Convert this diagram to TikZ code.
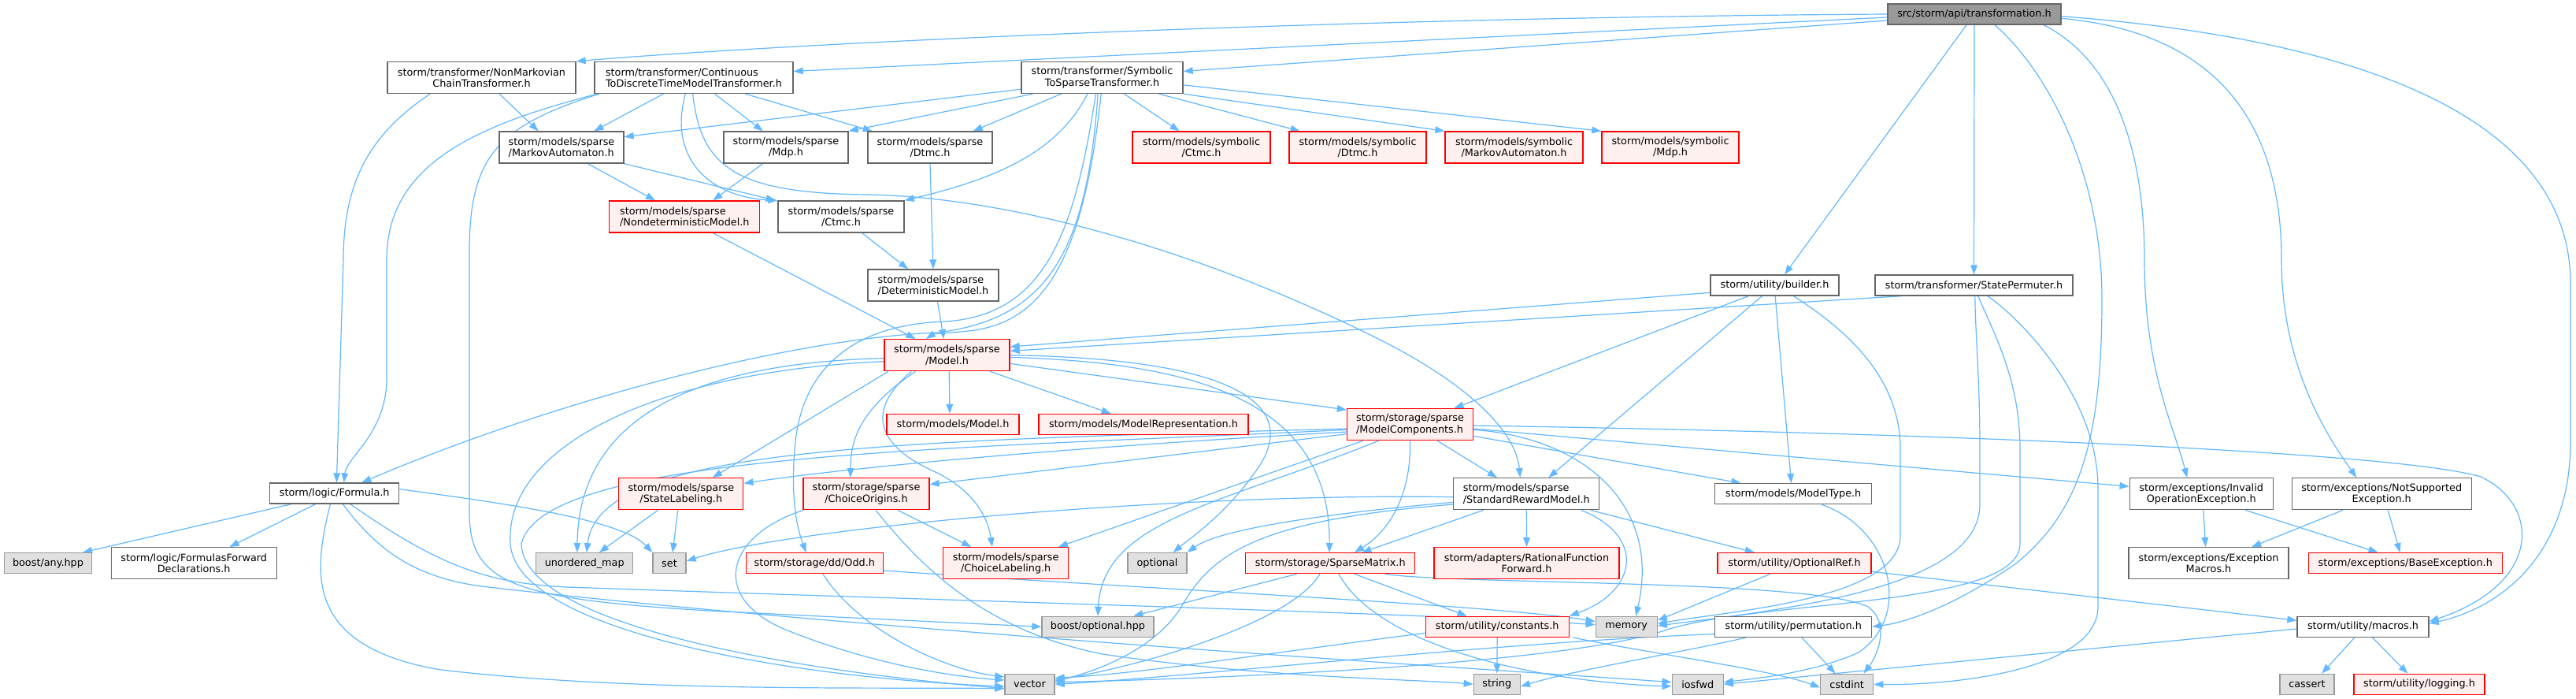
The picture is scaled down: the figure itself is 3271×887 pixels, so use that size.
\documentclass[tikz,border=0pt]{standalone}
\usepackage{fontspec}
\setmainfont{DejaVu Sans}
\usetikzlibrary{arrows.meta,calc}
\definecolor{edgec}{HTML}{63B8FF}
\definecolor{redfill}{HTML}{FFF0F0}
\definecolor{grayfill}{HTML}{E0E0E0}
\definecolor{graydraw}{HTML}{999999}
\definecolor{whitedraw}{HTML}{666666}
\definecolor{topfill}{HTML}{999999}
\pgfdeclarelayer{background}
\pgfsetlayers{background,main}
\tikzset{
  box/.style={draw, inner sep=0pt, line width=1pt, align=center, font=\fontsize{9.6pt}{10.8pt}\selectfont},
  rbox/.style={box, fill=redfill, draw=red},
  wbox/.style={box, fill=white, draw=whitedraw},
  gbox/.style={box, fill=grayfill, draw=graydraw},
  tbox/.style={box, fill=topfill, draw=whitedraw},
  sz/.style 2 args={minimum width=#1*0.75pt, minimum height=#2*0.75pt},
  lnk/.style={draw=edgec, line width=0.9pt, -{Triangle[length=9pt,width=6.5pt]}}
}
\begin{document}
\begin{tikzpicture}[x=0.75pt,y=-0.75pt]
\useasboundingbox (0,0) rectangle (3271,887);
\begin{pgfonlayer}{background}
\fill[white] (0,0) rectangle (3271,887);
\end{pgfonlayer}
% nodes
\node[tbox, sz={220}{26}] (trans) at (2507,18) {src/storm/api/transformation.h};
\node[wbox, sz={239}{40}] (nonmark) at (611.5,98.5) {storm/transformer/NonMarkovian\\ChainTransformer.h};
\node[wbox, sz={252}{40}, align=left] (cont) at (881,98.5) {storm/transformer/Continuous\\ToDiscreteTimeModelTransformer.h};
\node[wbox, sz={205}{40}] (symb) at (1399.5,98.5) {storm/transformer/Symbolic\\ToSparseTransformer.h};
\node[wbox, sz={158}{40}, align=left] (maS) at (713,187) {storm/models/sparse\\/MarkovAutomaton.h};
\node[wbox, sz={158}{40}] (mdpS) at (998,187) {storm/models/sparse\\/Mdp.h};
\node[wbox, sz={158}{40}] (dtmcS) at (1181,187) {storm/models/sparse\\/Dtmc.h};
\node[rbox, sz={175}{40}] (ctmcSym) at (1525.5,187) {storm/models/symbolic\\/Ctmc.h};
\node[rbox, sz={174}{40}] (dtmcSym) at (1724,187) {storm/models/symbolic\\/Dtmc.h};
\node[rbox, sz={175}{40}] (maSym) at (1922.5,187) {storm/models/symbolic\\/MarkovAutomaton.h};
\node[rbox, sz={174}{40}] (mdpSym) at (2121,187) {storm/models/symbolic\\/Mdp.h};
\node[rbox, sz={191}{40}, align=left] (nondet) at (869.3,275) {storm/models/sparse\\/NondeterministicModel.h};
\node[wbox, sz={160}{40}] (ctmcS) at (1068,275) {storm/models/sparse\\/Ctmc.h};
\node[wbox, sz={166}{40}, align=left] (determ) at (1185,362) {storm/models/sparse\\/DeterministicModel.h};
\node[wbox, sz={163}{26}] (builder) at (2253.5,362) {storm/utility/builder.h};
\node[wbox, sz={251}{26}] (statePerm) at (2506.5,362) {storm/transformer/StatePermuter.h};
\node[rbox, sz={159}{40}] (model) at (1202.5,450.7) {storm/models/sparse\\/Model.h};
\node[rbox, sz={168}{26}] (modelH) at (1210,538.5) {storm/models/Model.h};
\node[rbox, sz={266}{26}] (modelRep) at (1452,538.5) {storm/models/ModelRepresentation.h};
\node[rbox, sz={160}{40}, align=left] (modelComp) at (1790.5,538.7) {storm/storage/sparse\\/ModelComponents.h};
\node[wbox, sz={164}{26}] (formula) at (424.7,626) {storm/logic/Formula.h};
\node[rbox, sz={158}{40}] (stateLab) at (864.8,626.7) {storm/models/sparse\\/StateLabeling.h};
\node[rbox, sz={160}{40}] (choiceOrig) at (1100,626.7) {storm/storage/sparse\\/ChoiceOrigins.h};
\node[wbox, sz={185}{40}, align=left] (stdReward) at (1938.3,626.7) {storm/models/sparse\\/StandardRewardModel.h};
\node[wbox, sz={199}{26}] (modelType) at (2277.2,626.7) {storm/models/ModelType.h};
\node[wbox, sz={182}{40}] (invOp) at (2795.2,626.7) {storm/exceptions/Invalid\\OperationException.h};
\node[wbox, sz={228}{40}] (notSup) at (3024.2,626.7) {storm/exceptions/NotSupported\\Exception.h};
\node[gbox, sz={111}{26}] (anyhpp) at (61,714.7) {boost/any.hpp};
\node[wbox, sz={210}{40}] (formFwd) at (246.2,714.7) {storm/logic/FormulasForward\\Declarations.h};
\node[gbox, sz={123}{26}] (umap) at (742.2,714.7) {unordered\_map};
\node[gbox, sz={42}{26}] (set) at (850,714.7) {set};
\node[rbox, sz={174}{26}] (odd) at (1034.3,714.7) {storm/storage/dd/Odd.h};
\node[rbox, sz={159}{40}] (choiceLab) at (1277.2,714.7) {storm/models/sparse\\/ChoiceLabeling.h};
\node[gbox, sz={75}{26}] (optional) at (1469.5,714.7) {optional};
\node[rbox, sz={215}{26}] (sparseMat) at (1689.3,714.7) {storm/storage/SparseMatrix.h};
\node[rbox, sz={235}{40}] (ratFunc) at (1938.5,714.7) {storm/adapters/RationalFunction\\Forward.h};
\node[rbox, sz={195}{26}] (optRef) at (2278.5,714.7) {storm/utility/OptionalRef.h};
\node[wbox, sz={203}{40}] (excMacros) at (2804.5,714.7) {storm/exceptions/Exception\\Macros.h};
\node[rbox, sz={246}{26}] (baseExc) at (3054.2,714.7) {storm/exceptions/BaseException.h};
\node[gbox, sz={142}{26}] (boostOpt) at (1394,795.3) {boost/optional.hpp};
\node[rbox, sz={182}{26}] (constants) at (1901.2,795.3) {storm/utility/constants.h};
\node[gbox, sz={78}{26}] (memory) at (2065.2,795.3) {memory};
\node[wbox, sz={199}{26}] (permutation) at (2277.2,795.3) {storm/utility/permutation.h};
\node[wbox, sz={167}{26}] (macros) at (3000.5,795.3) {storm/utility/macros.h};
\node[gbox, sz={63}{26}] (vector) at (1307.5,868.3) {vector};
\node[gbox, sz={59}{26}] (string) at (1900.8,868.3) {string};
\node[gbox, sz={65}{26}] (iosfwd) at (2155.7,868.3) {iosfwd};
\node[gbox, sz={67}{26}] (cstdint) at (2345.2,868.3) {cstdint};
\node[gbox, sz={69}{26}] (cassert) at (2929.5,868.3) {cassert};
\node[rbox, sz={166}{26}] (logging) at (3072,868.3) {storm/utility/logging.h};

\begin{pgfonlayer}{background}
% transformation.h
\draw[lnk] (trans.west) .. controls (1700,22) and (1000,55) .. (nonmark.north east);
\draw[lnk] ([yshift=-3pt]trans.west) -- ([yshift=6pt]cont.east);
\draw[lnk] ([yshift=-6pt]trans.west) -- ([yshift=6pt]symb.east);
\draw[lnk] ([xshift=-7.5pt]trans.south) -- ([xshift=9.4pt]builder.north);
\draw[lnk] (trans.south) -- (statePerm.north);
\draw[lnk] ([xshift=19.5pt]trans.south) .. controls (2600,90) and (2669,220) .. (2669,380) .. controls (2669,560) and (2640,650) .. (2560,715) .. controls (2480,770) and (2420,790) .. (permutation.east);
\draw[lnk] ([xshift=66pt]trans.south) .. controls (2690,80) and (2723,200) .. (2723,330) .. controls (2723,470) and (2760,540) .. ([xshift=-13.5pt]invOp.north);
\draw[lnk] ([yshift=-4pt]trans.east) .. controls (2800,40) and (2897,140) .. (2897,330) .. controls (2897,470) and (2960,560) .. ([xshift=-24pt]notSup.north);
\draw[lnk] ([yshift=-2pt]trans.east) .. controls (3000,50) and (3264,150) .. (3264,360) -- (3264,560) .. controls (3264,700) and (3180,770) .. ([yshift=3pt]macros.east);
% NonMarkovian
\draw[lnk] ([xshift=-49pt]nonmark.south) .. controls (470,170) and (436,230) .. (436,330) -- ([xshift=2pt]formula.north);
\draw[lnk] ([xshift=17pt]nonmark.south) -- ([xshift=-22pt]maS.north);
% Continuous
\draw[lnk] ([xshift=-92pt]cont.south) .. controls (600,160) and (491,210) .. (491,330) -- (491,480) .. controls (491,550) and (440,580) .. ([xshift=9pt]formula.north);
\draw[lnk] ([xshift=-90pt]cont.south) .. controls (630,160) and (596,200) .. (596,320) -- (596,650) .. controls (596,740) and (650,760) .. (900,775) .. controls (1100,785) and (1250,792) .. (boostOpt.west);
\draw[lnk] ([xshift=-29pt]cont.south) -- ([xshift=31pt]maS.north);
\draw[lnk] ([xshift=-8pt]cont.south) .. controls (848,200) and (900,250) .. (ctmcS.north west);
\draw[lnk] ([xshift=-1pt]cont.south) .. controls (890,210) and (930,245) .. (1100,247) .. controls (1300,250) and (1550,330) .. (1750,430) .. controls (1870,490) and (1925,550) .. ([xshift=-6pt]stdReward.north);
\draw[lnk] ([xshift=20pt]cont.south) -- ([xshift=-22pt]mdpS.north);
\draw[lnk] ([xshift=49pt]cont.south) -- ([xshift=-55pt]dtmcS.north);
% Symbolic
\draw[lnk] ([yshift=-11pt]symb.west) -- ([yshift=10pt]maS.east);
\draw[lnk] ([xshift=-66pt]symb.south) -- (mdpS.north east);
\draw[lnk] ([xshift=-39pt]symb.south) -- ([xshift=41pt]dtmcS.north);
\draw[lnk] ([xshift=-14pt]symb.south) .. controls (1340,200) and (1250,230) .. (ctmcS.north east);
\draw[lnk] ([xshift=-4pt]symb.south) .. controls (1380,320) and (1330,405) .. (1190,422) .. controls (1000,430) and (700,510) .. ([xshift=26pt]formula.north);
\draw[lnk] ([xshift=-1pt]symb.south) .. controls (1375,340) and (1320,410) .. (1230,420) .. controls (1200,423) and (1185,424) .. ([xshift=-20pt]model.north);
\draw[lnk] ([xshift=-6pt]symb.south) .. controls (1365,290) and (1330,400) .. (1200,408) .. controls (1080,412) and (1020,470) .. (1010,560) .. controls (1003,630) and (1012,670) .. ([xshift=-8pt]odd.north);
\draw[lnk] ([xshift=21pt]symb.south) -- ([xshift=-21pt]ctmcSym.north);
\draw[lnk] ([xshift=54pt]symb.south) -- ([xshift=-55pt]dtmcSym.north);
\draw[lnk] (symb.south east) -- (maSym.north west);
\draw[lnk] ([yshift=-7pt]symb.east) -- (mdpSym.north west);
% sparse models
\draw[lnk] ([xshift=25pt]maS.south) -- ([xshift=-28pt]nondet.north);
\draw[lnk] (maS.south east) -- ([xshift=-2pt]ctmcS.north west);
\draw[lnk] ([xshift=-22pt]mdpS.south) -- ([xshift=27pt]nondet.north);
\draw[lnk] (dtmcS.south) -- (determ.north);
\draw[lnk] ([xshift=20pt]ctmcS.south) -- ([xshift=-24pt]determ.north);
\draw[lnk] ([xshift=27pt]nondet.south) -- ([xshift=-30pt]model.north);
\draw[lnk] ([xshift=4pt]determ.south) -- ([xshift=-3pt]model.north);
% builder and StatePermuter
\draw[lnk] ([yshift=-7pt]builder.west) -- ([yshift=8pt]model.east);
\draw[lnk] ([xshift=-68.6pt]statePerm.south) -- ([yshift=4pt]model.east);
\draw[lnk] ([xshift=-25pt]builder.south) -- ([xshift=42pt]modelComp.north);
\draw[lnk] ([xshift=-12pt]builder.south) -- ([xshift=21pt]stdReward.north);
\draw[lnk] ([xshift=0.5pt]builder.south) -- ([xshift=-2pt]modelType.north);
\draw[lnk] ([xshift=18pt]builder.south) .. controls (2330,410) and (2413,470) .. (2413,570) -- (2413,680) .. controls (2413,760) and (2200,775) .. ([yshift=3pt]memory.east);
\draw[lnk] ([xshift=1pt]statePerm.south) .. controls (2508,420) and (2514,480) .. (2514,570) -- (2514,640) .. controls (2514,740) and (2300,770) .. ([yshift=1pt]memory.east);
\draw[lnk] ([xshift=4pt]statePerm.south) .. controls (2530,420) and (2565,480) .. (2565,570) -- (2565,690) .. controls (2565,770) and (2250,760) .. (2120,798) .. controls (2000,840) and (1600,860) .. ([yshift=2pt]vector.east);
\draw[lnk] ([xshift=13pt]statePerm.south) .. controls (2560,400) and (2664,500) .. (2664,620) -- (2664,770) .. controls (2664,850) and (2480,870) .. (cstdint.east);
% sparse Model.h
\draw[lnk] ([xshift=2pt]model.south) -- ([xshift=-3pt]modelH.north);
\draw[lnk] ([xshift=41pt]model.south) -- ([xshift=-31pt]modelRep.north);
\draw[lnk] ([yshift=-8pt]model.east) -- ([yshift=14pt]modelComp.west);
\draw[lnk] ([yshift=-2pt]model.east) .. controls (1500,460) and (1690,500) .. ([xshift=-1pt]sparseMat.north);
\draw[lnk] (model.east) .. controls (1560,455) and (1650,510) .. (1600,590) .. controls (1560,650) and (1515,680) .. ([xshift=15pt]optional.north);
\draw[lnk] ([xshift=-56pt]model.south) -- ([xshift=30pt]stateLab.north);
\draw[lnk] ([xshift=-30pt]model.south) .. controls (1090,520) and (1080,560) .. ([xshift=-15pt]choiceOrig.north);
\draw[lnk] ([xshift=-34pt]model.south) .. controls (1100,520) and (1110,565) .. (1190,600) .. controls (1240,625) and (1255,660) .. ([xshift=-13pt]choiceLab.north);
\draw[lnk] ([yshift=-3pt]model.west) .. controls (900,460) and (735,520) .. ([xshift=-7pt]umap.north);
\draw[lnk] ([yshift=-6pt]model.west) .. controls (850,470) and (640,560) .. (648,690) .. controls (655,800) and (1000,860) .. ([yshift=-2pt]vector.west);
% ModelComponents
\draw[lnk] ([yshift=-7pt]modelComp.west) .. controls (1400,565) and (1100,590) .. ([yshift=10pt]stateLab.east);
\draw[lnk] ([yshift=-9pt]modelComp.west) -- ([yshift=9pt]choiceOrig.east);
\draw[lnk] ([yshift=-4pt]modelComp.west) .. controls (1100,560) and (760,570) .. ([xshift=2pt]umap.north);
\draw[lnk] ([yshift=-5pt]modelComp.west) .. controls (1200,570) and (690,575) .. (662,690) .. controls (665,800) and (1050,855) .. ([yshift=-4pt]vector.west);
\draw[lnk] ([xshift=-45pt]modelComp.south) -- ([xshift=50pt]choiceLab.north);
\draw[lnk] ([xshift=-30pt]modelComp.south) .. controls (1550,640) and (1400,660) .. (boostOpt.north);
\draw[lnk] (modelComp.south) .. controls (1792,620) and (1770,670) .. ([xshift=23pt]sparseMat.north);
\draw[lnk] ([xshift=26pt]modelComp.south) -- ([xshift=-28pt]stdReward.north);
\draw[lnk] ([yshift=-5pt]modelComp.east) .. controls (2010,555) and (2110,640) .. ([xshift=9pt]memory.north);
\draw[lnk] ([yshift=-11pt]modelComp.east) -- ([xshift=-50pt]modelType.north);
\draw[lnk] ([yshift=-4pt]modelComp.east) -- ([yshift=7pt]invOp.west);
\draw[lnk] ([yshift=-1pt]modelComp.east) .. controls (2500,550) and (3050,575) .. (3150,605) .. controls (3225,640) and (3230,740) .. ([yshift=5pt]macros.east);
% StandardRewardModel
\draw[lnk] ([yshift=-3pt]stdReward.west) .. controls (1500,625) and (1000,670) .. ([yshift=2pt]set.east);
\draw[lnk] ([yshift=-8pt]stdReward.west) .. controls (1700,650) and (1550,670) .. (optional.north east);
\draw[lnk] ([yshift=-10pt]stdReward.west) .. controls (1600,660) and (1540,700) .. (1500,770) .. controls (1470,820) and (1400,850) .. ([yshift=3pt]vector.east);
\draw[lnk] ([xshift=-41pt]stdReward.south) -- ([xshift=30pt]sparseMat.north);
\draw[lnk] (stdReward.south) -- (ratFunc.north);
\draw[lnk] ([xshift=52pt]stdReward.south) .. controls (2090,680) and (2080,750) .. (constants.north east);
\draw[lnk] ([xshift=61pt]stdReward.south) -- ([xshift=-38pt]optRef.north);
% SparseMatrix
\draw[lnk] ([xshift=-32pt]sparseMat.south) -- ([xshift=34pt]boostOpt.north);
\draw[lnk] ([xshift=-10pt]sparseMat.south) .. controls (1640,790) and (1450,845) .. ([yshift=4pt]vector.east);
\draw[lnk] ([xshift=8pt]sparseMat.south) .. controls (1750,820) and (1950,865) .. ([yshift=-2pt]iosfwd.west);
\draw[lnk] ([xshift=23pt]sparseMat.south) -- ([xshift=-29pt]constants.north);
\draw[lnk] ([xshift=52pt]sparseMat.south) .. controls (1850,742) and (2300,735) .. (2372,770) .. controls (2400,790) and (2385,830) .. ([xshift=16pt]cstdint.north);
% constants
\draw[lnk] (constants.south) -- (string.north);
\draw[lnk] ([yshift=-6pt]constants.west) .. controls (1600,830) and (1450,855) .. ([yshift=6pt]vector.east);
\draw[lnk] ([xshift=72pt]constants.south) .. controls (2100,830) and (2250,850) .. ([yshift=-3pt]cstdint.west);
% permutation
\draw[lnk] ([yshift=-7pt]permutation.west) .. controls (1900,815) and (1500,860) .. (vector.east);
\draw[lnk] ([xshift=-45pt]permutation.south) .. controls (2150,825) and (2000,850) .. ([yshift=-2pt]string.east);
\draw[lnk] ([xshift=8pt]permutation.south) -- ([xshift=-11pt]cstdint.north);
% Formula
\draw[lnk] ([xshift=-41pt]formula.south) -- ([xshift=33pt]anyhpp.north);
\draw[lnk] ([xshift=-18pt]formula.south) -- ([xshift=34pt]formFwd.north);
\draw[lnk] ([xshift=-4pt]formula.south) .. controls (400,720) and (380,820) .. (560,850) .. controls (800,878) and (1100,872) .. ([yshift=-4pt]vector.west);
\draw[lnk] ([xshift=8pt]formula.south) .. controls (480,700) and (530,735) .. (620,745) .. controls (1100,800) and (1900,850) .. ([yshift=2pt]iosfwd.west);
\draw[lnk] ([xshift=15pt]formula.south) .. controls (560,720) and (620,740) .. (720,745) .. controls (1200,762) and (1800,778) .. ([yshift=2pt]memory.west);
\draw[lnk] ([yshift=4pt]formula.east) .. controls (650,640) and (790,660) .. (set.north west);
% StateLabeling, ChoiceOrigins, Odd
\draw[lnk] ([xshift=-22pt]stateLab.south) -- ([xshift=14pt]umap.north);
\draw[lnk] ([xshift=-3pt]stateLab.south) -- ([xshift=3pt]set.north);
\draw[lnk] ([xshift=30pt]choiceOrig.south) -- ([xshift=-33pt]choiceLab.north);
\draw[lnk] ([xshift=-60pt]choiceOrig.south) .. controls (920,680) and (900,760) .. (1000,800) .. controls (1100,840) and (1200,858) .. ([yshift=4pt]vector.west);
\draw[lnk] ([xshift=9pt]choiceOrig.south) .. controls (1170,720) and (1250,800) .. (1400,830) .. controls (1600,860) and (1800,862) .. (string.west);
\draw[lnk] ([xshift=8pt]odd.south) .. controls (1090,800) and (1200,850) .. ([yshift=7pt]vector.west);
\draw[lnk] ([yshift=-7pt]odd.east) .. controls (1500,750) and (1900,768) .. ([yshift=5pt]memory.west);
% OptionalRef, ModelType
\draw[lnk] ([xshift=-23pt]optRef.south) -- ([yshift=6pt]memory.east);
\draw[lnk] ([yshift=-8pt]optRef.east) -- ([yshift=6pt]macros.west);
\draw[lnk] ([xshift=27pt]modelType.south) .. controls (2400,670) and (2430,780) .. (2360,828) .. controls (2300,855) and (2220,862) .. ([yshift=2pt]iosfwd.east);
% macros
\draw[lnk] ([yshift=-2pt]macros.west) -- (iosfwd.east);
\draw[lnk] ([xshift=-8pt]macros.south) -- ([xshift=14pt]cassert.north);
\draw[lnk] ([xshift=9pt]macros.south) -- ([xshift=-11pt]logging.north);
% exceptions
\draw[lnk] ([xshift=2pt]invOp.south) -- ([xshift=-3pt]excMacros.north);
\draw[lnk] ([xshift=42pt]invOp.south) -- ([xshift=-26pt]baseExc.north);
\draw[lnk] ([xshift=-37pt]notSup.south) -- ([xshift=41pt]excMacros.north);
\draw[lnk] ([xshift=6pt]notSup.south) -- ([xshift=-5pt]baseExc.north);
\end{pgfonlayer}
\end{tikzpicture}
\end{document}
